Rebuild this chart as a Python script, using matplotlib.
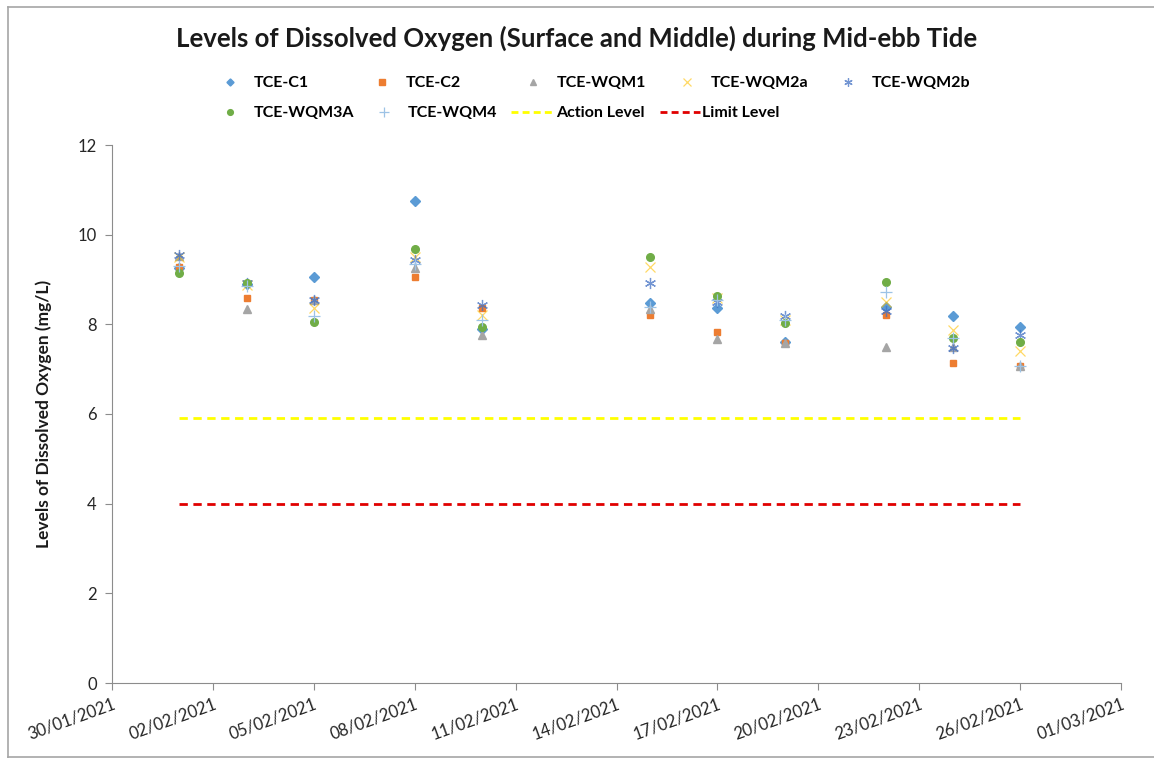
import matplotlib
matplotlib.use('Agg')
import matplotlib.pyplot as plt
import matplotlib.dates as mdates
from matplotlib.lines import Line2D
from datetime import datetime, timedelta

plt.rcParams['font.family'] = ['Lato', 'DejaVu Sans']

# sampling dates (mid-ebb tide)
dates = ['01/02/2021', '03/02/2021', '05/02/2021', '08/02/2021', '10/02/2021',
         '15/02/2021', '17/02/2021', '19/02/2021', '22/02/2021', '24/02/2021',
         '26/02/2021']

# dissolved oxygen (mg/L)
c1     = [9.25, 8.90, 9.06, 10.75, 7.90, 8.47, 8.37, 7.60, 8.39, 8.19, 7.95]
c2     = [9.28, 8.59, 8.54, 9.06, 8.37, 8.21, 7.83, 7.58, 8.21, 7.13, 7.07]
wqm1   = [9.53, 8.34, 8.55, 9.25, 7.76, 8.35, 7.67, 7.58, 7.50, 7.50, 7.07]
wqm2a  = [9.50, 8.88, 8.37, 9.50, 8.20, 9.28, 8.58, 8.10, 8.50, 7.87, 7.41]
wqm2b  = [9.55, 8.92, 8.55, 9.44, 8.43, 8.92, 8.50, 8.18, 8.30, 7.47, 7.76]
wqm3a  = [9.15, 8.92, 8.05, 9.68, 7.95, 9.50, 8.63, 8.03, 8.95, 7.70, 7.61]
wqm4   = [9.30, 8.85, 8.19, 9.35, 8.10, 8.39, 8.55, 8.10, 8.72, 7.70, 7.07]

action_level = 5.9
limit_level = 4.0

W, H = 1154, 758
x = [datetime.strptime(d, '%d/%m/%Y') for d in dates]

fig = plt.figure(figsize=(W / 100, H / 100), dpi=100)
ax = fig.add_axes([112 / W, 1 - 683 / H, (1121 - 112) / W, (683 - 145) / H])

series = [
    ('TCE-C1', c1, dict(marker='D', color='#5B9BD5', ms=4.8, ls='none')),
    ('TCE-C2', c2, dict(marker='s', color='#ED7D31', ms=5, ls='none')),
    ('TCE-WQM1', wqm1, dict(marker='^', color='#A5A5A5', ms=6, ls='none')),
    ('TCE-WQM2a', wqm2a, dict(marker='x', color='#FFC000', ms=7, mew=0.9, ls='none', alpha=0.6)),
    ('TCE-WQM2b', wqm2b, dict(marker=(6, 2, 0), color='#4472C4', ms=8, mew=0.9, ls='none', alpha=0.75)),
    ('TCE-WQM3A', wqm3a, dict(marker='o', color='#70AD47', ms=5.5, ls='none')),
    ('TCE-WQM4', wqm4, dict(marker='+', color='#9DC3E6', ms=9, mew=0.9, ls='none')),
]

handles = []
for name, vals, st in series:
    h, = ax.plot(x, vals, label=name, **st)
    handles.append(h)

ha, = ax.plot([x[0], x[-1]], [action_level, action_level], color='#FFFF00',
              lw=2, dashes=(3, 2), label='Action Level')
hl, = ax.plot([x[0], x[-1]], [limit_level, limit_level], color='#E00000',
              lw=2, dashes=(3, 2), label='Limit Level')

ax.set_xlim(datetime(2021, 1, 30), datetime(2021, 3, 1))
ticks = [datetime(2021, 1, 30) + timedelta(days=3 * i) for i in range(11)]
ax.set_xticks(ticks)
ax.xaxis.set_major_formatter(mdates.DateFormatter('%d/%m/%Y'))
plt.setp(ax.get_xticklabels(), rotation=20, ha='right', rotation_mode='anchor',
         fontsize=12, color='#262626')
ax.set_ylim(0, 12)
ax.set_yticks(range(0, 13, 2))
ax.tick_params(axis='y', labelsize=12, labelcolor='#262626', length=5,
               color='#8C8C8C', direction='out', pad=6)
ax.tick_params(axis='x', length=5, color='#8C8C8C', direction='out', pad=4)

for s in ['top', 'right']:
    ax.spines[s].set_visible(False)
for s in ['left', 'bottom']:
    ax.spines[s].set_color('#8C8C8C')

ax.set_ylabel('Levels of Dissolved Oxygen (mg/L)', fontsize=12.5, fontweight='bold',
              labelpad=18, color='#1a1a1a')

fig.text(0.5, 1 - 38 / H, 'Levels of Dissolved Oxygen (Surface and Middle) during Mid-ebb Tide',
         ha='center', va='center', fontsize=18.5, fontweight='bold', color='#1a1a1a')

# legend entries placed one by one (marker centre x, row y)
fs = 11.5
fs_px = fs * 100 / 72


def legend_item(h, xc, y, hlen=1.0, pad=1.0, scale=0.75):
    x0 = xc - hlen * fs_px / 2
    fig.legend([h], [h.get_label()], loc='center left',
               bbox_to_anchor=(x0 / W, 1 - y / H), frameon=False,
               borderpad=0, borderaxespad=0, handlelength=hlen,
               handletextpad=pad, markerscale=scale,
               prop={'weight': 'bold', 'size': fs})


row1_x = [230, 382, 533, 687, 848]
for h, xc in zip(handles[:5], row1_x):
    legend_item(h, xc, 83)
legend_item(handles[5], 230, 113)
legend_item(handles[6], 384, 113)

dash_a = Line2D([], [], color='#FFFF00', lw=2, dashes=(2.5, 1.5), label='Action Level')
dash_l = Line2D([], [], color='#E00000', lw=2, dashes=(2.5, 1.5), label='Limit Level')
legend_item(dash_a, 533, 113, hlen=2.7, pad=0.1)
legend_item(dash_l, 680, 113, hlen=2.5, pad=0.1)

# outer chart frame
for xs, ys in [((8 / W, 1), (1 - 6.5 / H, 1 - 6.5 / H)),
               ((8 / W, 8 / W), (0, 1 - 6.5 / H)),
               ((8 / W, 1), (1 / H, 1 / H))]:
    fig.add_artist(Line2D(xs, ys, transform=fig.transFigure, color='#A6A6A6', lw=1.2))

fig.savefig('out.png', dpi=100)
